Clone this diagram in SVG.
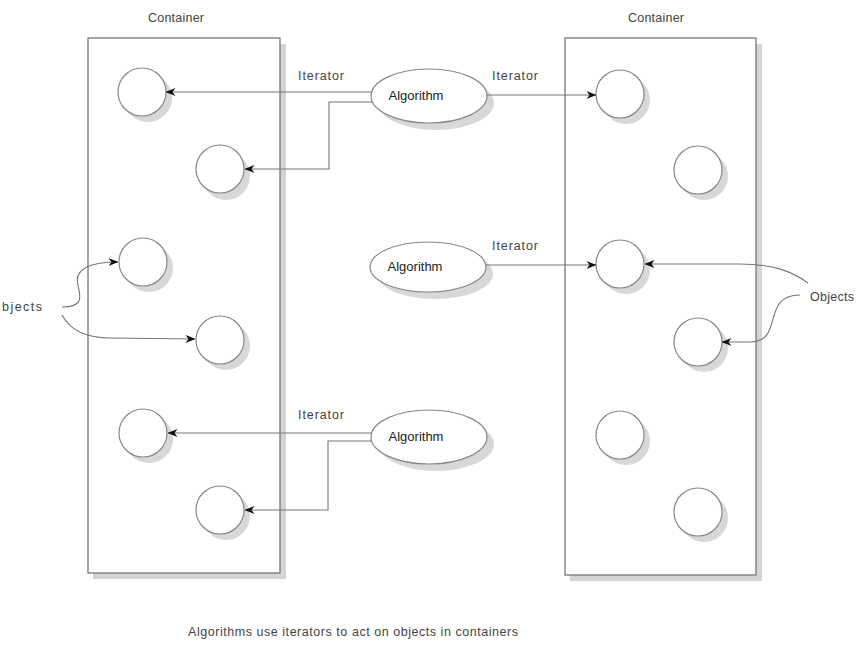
<svg xmlns="http://www.w3.org/2000/svg" width="856" height="648" viewBox="0 0 856 648">
<defs>
<marker id="ah" markerWidth="10" markerHeight="8" refX="9.5" refY="4" orient="auto" markerUnits="userSpaceOnUse">
<path d="M0,0 L10,4 L0,8 L3,4 Z" fill="#111"/>
</marker>
</defs>
<style>
text{font-family:"Liberation Sans","DejaVu Sans",sans-serif;font-size:12.5px;fill:#444}
.alg{font-size:13px;fill:#222;text-anchor:middle}
.box{fill:#fff;stroke:#777;stroke-width:1.3}
.bshadow{fill:#d4d4d4}
.obj{fill:#fff;stroke:#888;stroke-width:1.2}
.shadow{fill:#d8d8d8}
.conn{fill:none;stroke:#777;stroke-width:1.1;marker-end:url(#ah)}
</style>
<rect width="856" height="648" fill="#fff"/>

<g id="containerL">
<rect class="bshadow" x="93" y="44" width="193" height="535"/>
<rect class="box" x="88" y="38" width="192" height="535"/>
<text x="176" y="22" text-anchor="middle" textLength="56">Container</text>
</g>
<g id="containerR">
<rect class="bshadow" x="570" y="44" width="192" height="537"/>
<rect class="box" x="565" y="38" width="191" height="537"/>
<text x="656" y="22" text-anchor="middle" textLength="56">Container</text>
</g>

<g id="L1"><circle class="shadow" cx="148" cy="98" r="24"/><circle class="obj" cx="142" cy="92" r="24"/></g>
<g id="L2"><circle class="shadow" cx="226" cy="176" r="24"/><circle class="obj" cx="220" cy="169" r="24"/></g>
<g id="L3"><circle class="shadow" cx="149" cy="268" r="24"/><circle class="obj" cx="143" cy="262" r="24"/></g>
<g id="L4"><circle class="shadow" cx="226" cy="346" r="24"/><circle class="obj" cx="220" cy="340" r="24"/></g>
<g id="L5"><circle class="shadow" cx="149" cy="439" r="24"/><circle class="obj" cx="143" cy="433" r="24"/></g>
<g id="L6"><circle class="shadow" cx="226" cy="516" r="24"/><circle class="obj" cx="220" cy="510" r="24"/></g>

<g id="R1"><circle class="shadow" cx="626" cy="100" r="24"/><circle class="obj" cx="620" cy="94" r="24"/></g>
<g id="R2"><circle class="shadow" cx="704" cy="176" r="24"/><circle class="obj" cx="698" cy="170" r="24"/></g>
<g id="R3"><circle class="shadow" cx="626" cy="270" r="24"/><circle class="obj" cx="620" cy="264" r="24"/></g>
<g id="R4"><circle class="shadow" cx="704" cy="348" r="24"/><circle class="obj" cx="698" cy="342" r="24"/></g>
<g id="R5"><circle class="shadow" cx="626" cy="441" r="24"/><circle class="obj" cx="620" cy="435" r="24"/></g>
<g id="R6"><circle class="shadow" cx="704" cy="518" r="24"/><circle class="obj" cx="698" cy="512" r="24"/></g>

<g id="alg1"><ellipse class="shadow" cx="436" cy="103" rx="58" ry="27"/><ellipse class="obj" cx="429" cy="96" rx="58" ry="27"/><text class="alg" x="416" y="100">Algorithm</text></g>
<g id="alg2"><ellipse class="shadow" cx="435" cy="274" rx="58" ry="25"/><ellipse class="obj" cx="428" cy="267" rx="58" ry="25"/><text class="alg" x="415" y="271">Algorithm</text></g>
<g id="alg3"><ellipse class="shadow" cx="436" cy="444" rx="58" ry="27"/><ellipse class="obj" cx="429" cy="437" rx="58" ry="27"/><text class="alg" x="416" y="441">Algorithm</text></g>

<g id="connectors">
<path class="conn" d="M372,92 L166,92"/>
<path class="conn" d="M372,102 L329,102 L329,169 L245,169"/>
<path class="conn" d="M487,95 L596,95"/>
<path class="conn" d="M486,265 L596,265"/>
<path class="conn" d="M372,433 L168,433"/>
<path class="conn" d="M372,441 L328,441 L328,510 L245,510"/>
<path class="conn" d="M62,307 C85,307 80,296 78,285 C74,270 88,262 118,262"/>
<path class="conn" d="M62,315 C70,330 85,338 110,338 L195,339"/>
<path class="conn" d="M808,283 C790,270 770,264 740,264 L645,264"/>
<path class="conn" d="M800,295 C760,295 785,342 750,342 L722,342"/>
</g>

<g id="labels">
<text x="298" y="80" textLength="46">Iterator</text>
<text x="492" y="80" textLength="46">Iterator</text>
<text x="492" y="250" textLength="46">Iterator</text>
<text x="298" y="419" textLength="46">Iterator</text>
<text x="2" y="311" textLength="40">bjects</text>
<text x="810" y="301" textLength="44">Objects</text>
<text x="188" y="636" textLength="330">Algorithms use iterators to act on objects in containers</text>
</g>
</svg>
